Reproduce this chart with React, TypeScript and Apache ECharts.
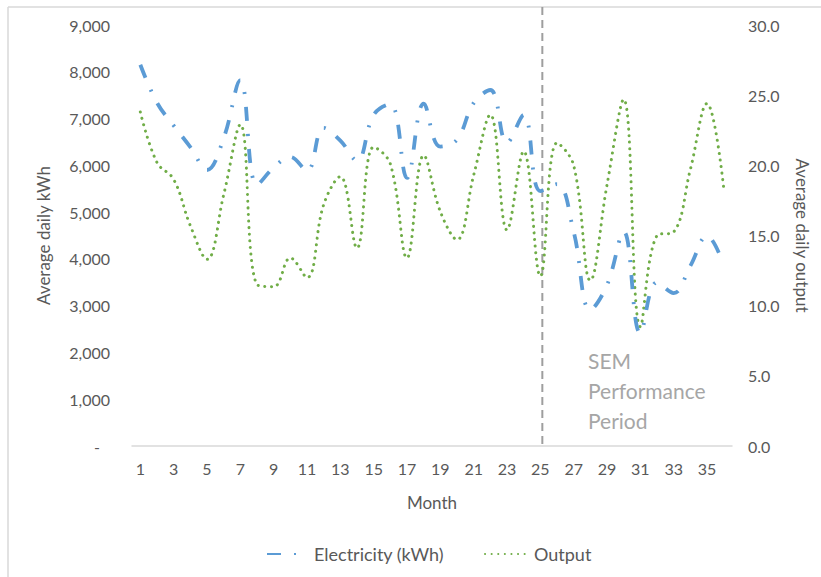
import React, { useEffect, useRef } from "react";
import * as echarts from "echarts";

const months = [
  "1", "2", "3", "4", "5", "6", "7", "8", "9", "10", "11", "12",
  "13", "14", "15", "16", "17", "18", "19", "20", "21", "22", "23", "24",
  "25", "26", "27", "28", "29", "30", "31", "32", "33", "34", "35", "36",
];

const electricity = [
  8150, 7340, 6850, 6390, 5900, 6580, 7820, 5580, 5950, 6180, 5880, 6800,
  6530, 6100, 7080, 7310, 5730, 7320, 6400, 6550, 7330, 7610, 6480, 7080,
  5450, 5600, 4580, 2910, 3440, 4580, 2410, 3500, 3270, 3850, 4490, 3870,
];

const output = [
  23.8, 20.2, 19.0, 15.7, 13.3, 17.9, 22.9, 11.5, 11.35, 13.4, 12.0, 17.2,
  19.2, 14.1, 21.3, 20.1, 13.4, 20.7, 16.7, 14.7, 19.3, 23.6, 15.4, 21.0,
  12.1, 21.6, 20.0, 11.8, 18.6, 24.7, 8.5, 15.0, 15.25, 19.7, 24.4, 18.4,
];

const leftTicks = { min: 0, max: 9000, interval: 1000 };
const rightTicks = { min: 0, max: 30, interval: 5 };
const markerMonth = "25";
const annotation = ["SEM", "Performance", "Period"];

const FONT = 'Lato, "Open Sans", sans-serif';
const LABEL = "#595959";

export default function App() {
  const ref = useRef<HTMLDivElement>(null);

  useEffect(() => {
    document.body.style.margin = "0";
    const chart = echarts.init(ref.current!, null, { renderer: "svg" });
    chart.setOption({
      animation: false,
      backgroundColor: "#ffffff",
      textStyle: { fontFamily: FONT },
      grid: { left: 132, right: 89, top: 25, bottom: 131, containLabel: false },
      legend: [
        {
          data: ["Electricity (kWh)"],
          left: 261,
          top: 540,
          itemWidth: 34,
          itemHeight: 14,
          itemStyle: { opacity: 0 },
          textStyle: { color: LABEL, fontSize: 18, fontFamily: FONT, padding: [0, 0, 0, 8] },
        },
        {
          data: ["Output"],
          left: 479,
          top: 540,
          itemWidth: 44,
          itemHeight: 14,
          itemStyle: { opacity: 0 },
          textStyle: { color: LABEL, fontSize: 18, fontFamily: FONT },
        },
      ],
      xAxis: {
        type: "category",
        data: months,
        boundaryGap: true,
        name: "Month",
        nameLocation: "middle",
        nameGap: 48,
        nameTextStyle: { color: LABEL, fontSize: 17, fontFamily: FONT },
        axisLine: { lineStyle: { color: "#D9D9D9", width: 1.5 } },
        axisTick: { show: false },
        axisLabel: { interval: 1, color: LABEL, fontSize: 16, margin: 14, fontFamily: FONT },
        splitLine: { show: false },
      },
      yAxis: [
        {
          type: "value",
          min: leftTicks.min,
          max: leftTicks.max,
          interval: leftTicks.interval,
          name: "Average daily kWh",
          nameLocation: "middle",
          nameGap: 80,
          nameTextStyle: { color: LABEL, fontSize: 17, fontFamily: FONT },
          axisLine: { show: false },
          axisTick: { show: false },
          splitLine: { show: false },
          axisLabel: {
            color: LABEL,
            fontSize: 16,
            margin: 22,
            fontFamily: FONT,
            formatter: (v: number) => (v === 0 ? "{d|-}" : v.toLocaleString("en-US")),
            rich: { d: { color: LABEL, fontSize: 16, fontFamily: FONT, padding: [0, 10, 0, 0] } },
          },
        },
        {
          type: "value",
          position: "right",
          min: rightTicks.min,
          max: rightTicks.max,
          interval: rightTicks.interval,
          name: "Average daily output",
          nameLocation: "middle",
          nameRotate: -90,
          nameGap: 62,
          nameTextStyle: { color: LABEL, fontSize: 17, fontFamily: FONT },
          axisLine: { show: false },
          axisTick: { show: false },
          splitLine: { show: false },
          axisLabel: {
            color: LABEL,
            fontSize: 16,
            margin: 16,
            fontFamily: FONT,
            formatter: (v: number) => v.toFixed(1),
          },
        },
      ],
      series: [
        {
          name: "Electricity (kWh)",
          type: "line",
          yAxisIndex: 0,
          data: electricity,
          smooth: 0.4,
          symbol: "none",
          lineStyle: { color: "#5B9BD5", width: 3.8, type: [14, 13, 2, 13], cap: "butt" },
          itemStyle: { color: "#5B9BD5" },
          z: 3,
        },
        {
          name: "Output",
          type: "line",
          yAxisIndex: 1,
          data: output,
          smooth: 0.4,
          symbol: "none",
          lineStyle: { color: "#70AD47", width: 3, type: [0.1, 6.5], cap: "round" },
          itemStyle: { color: "#70AD47" },
          z: 2,
        },
      ],
    });

    const x = chart.convertToPixel({ xAxisIndex: 0 }, markerMonth) as number;
    const yBottom = chart.convertToPixel({ yAxisIndex: 0 }, leftTicks.min) as number;
    chart.setOption({
      graphic: [
        { type: "line", shape: { x1: 8, y1: 7, x2: 821, y2: 7 }, style: { stroke: "#D9D9D9", lineWidth: 1.5 } },
        { type: "line", shape: { x1: 8, y1: 7, x2: 8, y2: 577 }, style: { stroke: "#D9D9D9", lineWidth: 1.5 } },
        {
          type: "line",
          shape: { x1: x + 2, y1: 7, x2: x + 2, y2: yBottom },
          style: { stroke: "#9E9E9E", lineWidth: 2, lineDash: [8, 5] },
          z: 1,
        },
        ...annotation.map((t, i) => ({
          type: "text",
          left: 588,
          top: 350 + i * 30,
          style: { text: t, fill: "#A6A6A6", fontSize: 21, fontFamily: FONT },
        })),
      ],
    });

    return () => chart.dispose();
  }, []);

  return <div ref={ref} style={{ width: 821, height: 577 }} />;
}
